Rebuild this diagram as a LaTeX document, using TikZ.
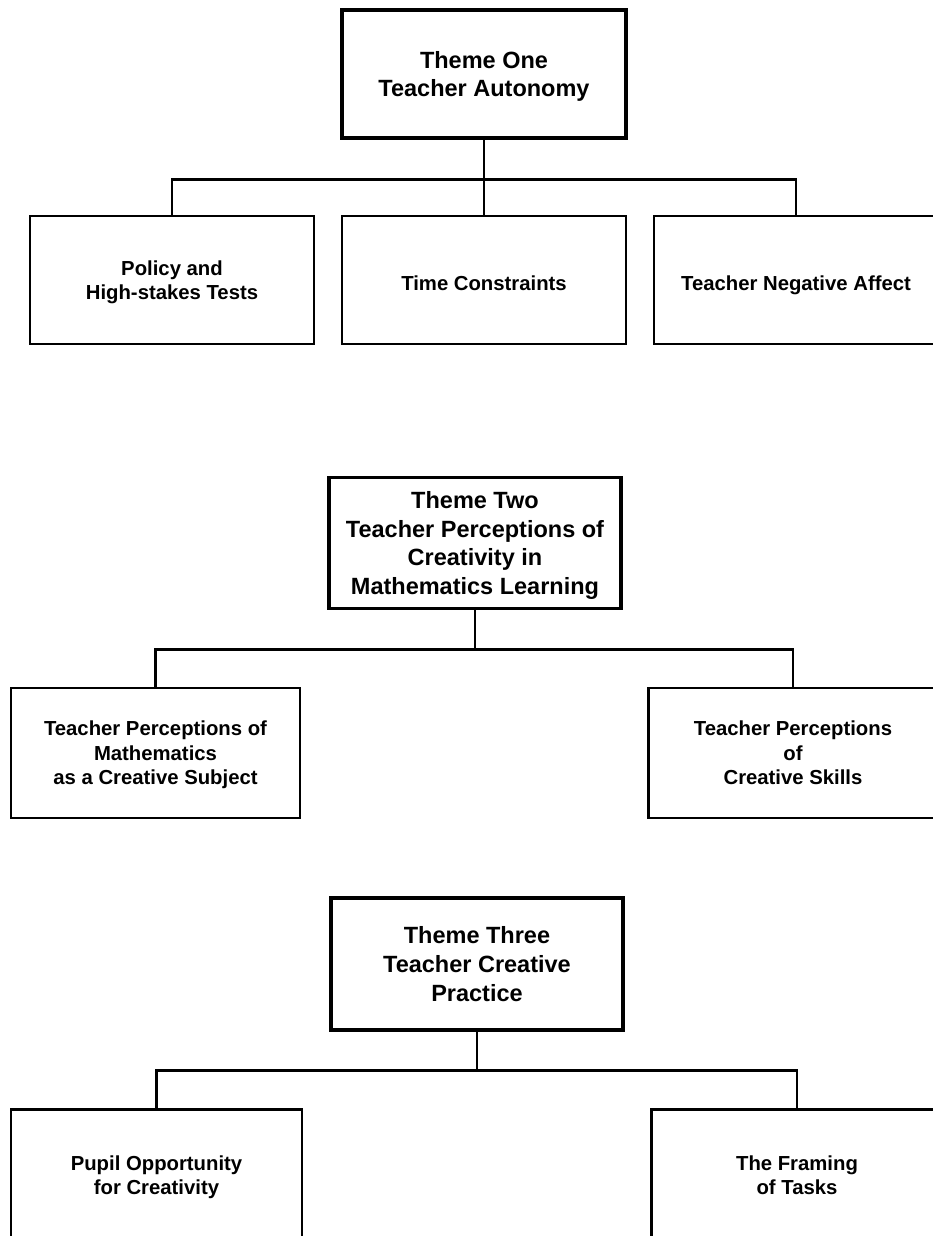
\documentclass[tikz,border=0pt]{standalone}
\usepackage{fontspec}
\setmainfont{Liberation Sans}
\usetikzlibrary{positioning}

\begin{document}
\begin{tikzpicture}[x=1pt, y=-1pt, node distance=2cm]
  % Styles
  \tikzstyle{theme} = [draw, rectangle, line width=3.4pt, minimum width=284pt, minimum height=128pt, inner sep=0pt, text depth=0pt, align=center, execute at begin node={\rule{0pt}{23pt}}, font=\fontsize{23.5}{28.6}\selectfont\bfseries]
  \tikzstyle{sub} = [draw, rectangle, line width=2.6pt, minimum width=284pt, minimum height=128pt, inner sep=0pt, text depth=0pt, align=center, execute at begin node={\rule{0pt}{20pt}}, font=\fontsize{20.3}{24.5}\selectfont\bfseries]
  \tikzstyle{link} = [line width=2.6pt]

  \useasboundingbox (0,0) rectangle (933,1236);
  \clip (0,0) rectangle (933,1236);
  \fill [white] (0,0) rectangle (933,1236);

  % Theme one
  \node [theme] (one) at (484,74) {Theme One\\Teacher Autonomy};
  \node [sub, below of=one, node distance=206pt] (time) {Time Constraints};
  \node [sub, left of=time, node distance=312pt] (policy) {Policy and\\High-stakes Tests};
  \node [sub, right of=time, node distance=312pt] (affect) {Teacher Negative Affect};

  \draw [link] (one.south) -- ++(0,40) coordinate (bar1);
  \draw [link] (policy.north) |- (bar1) -| (affect.north);
  \draw [link] (bar1) -- (time.north);

  % Theme two
  \node [theme, minimum width=292pt, minimum height=131pt] (two) at (475,543) {Theme Two\\Teacher Perceptions of\\Creativity in\\Mathematics Learning};
  \node [sub, minimum width=289pt, minimum height=130pt, below of=two, node distance=210pt, xshift=-319.5pt] (subject) {Teacher Perceptions of\\Mathematics\\as a Creative Subject};
  \node [sub, minimum width=289pt, minimum height=130pt, right of=subject, node distance=637.5pt] (skills) {Teacher Perceptions\\of\\Creative Skills};

  \draw [link] (two.south) -- ++(0,39) coordinate (bar2);
  \draw [link] (subject.north) |- (bar2) -| (skills.north);

  % Theme three
  \node [theme, minimum width=292pt, minimum height=132pt] (three) at (477,964) {Theme Three\\Teacher Creative\\Practice};
  \node [sub, minimum width=291pt, minimum height=131pt, below of=three, node distance=211pt, xshift=-320.5pt] (pupil) {Pupil Opportunity\\for Creativity};
  \node [sub, minimum width=291pt, minimum height=131pt, right of=pupil, node distance=640.5pt] (framing) {The Framing\\of Tasks};

  \draw [link] (three.south) -- ++(0,39) coordinate (bar3);
  \draw [link] (pupil.north) |- (bar3) -| (framing.north);

\end{tikzpicture}
\end{document}
